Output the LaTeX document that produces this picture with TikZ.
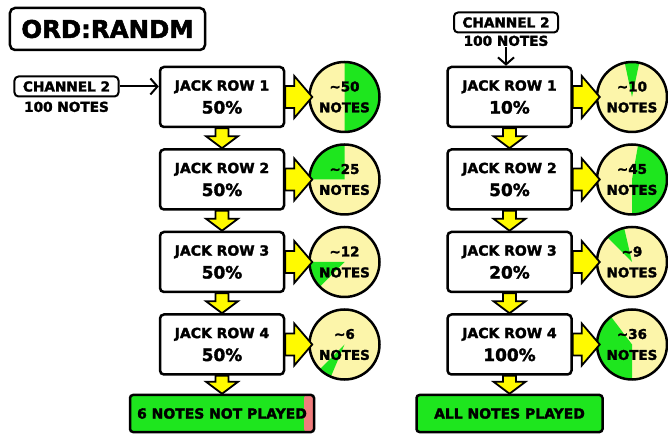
\documentclass[tikz,border=0pt]{standalone}
\usepackage{fontspec}
\setmainfont{DejaVu Sans}[BoldFeatures={FakeBold=2}]
\usepackage{tikz}
\usetikzlibrary{positioning,calc,arrows.meta}

\definecolor{arrowyellow}{RGB}{255,250,0}
\definecolor{pieyellow}{RGB}{252,245,170}
\definecolor{piegreen}{RGB}{30,230,30}
\definecolor{skipred}{RGB}{240,125,125}

\tikzset{
  jackbox/.style={draw, line width=2.5bp, rounded corners=4bp, fill=white,
    minimum width=124bp, minimum height=60bp, inner sep=0pt, align=center,
    font=\bfseries\fontsize{14}{23}\selectfont},
  notepie/.style 2 args={circle, draw, line width=2.5bp, fill=pieyellow,
    minimum size=70bp, inner sep=0pt, align=center,
    font=\bfseries\fontsize{13.5}{21}\selectfont,
    path picture={\fill[piegreen] (path picture bounding box.center) -- ++(#1:50bp)
      arc[start angle=#1, end angle=#2, radius=50bp] -- cycle;}},
  chanbox/.style={draw, line width=2bp, rounded corners=4bp, minimum width=104bp,
    minimum height=20bp, inner sep=0pt, font=\bfseries\fontsize{13.7}{15}\selectfont},
  endbox/.style={draw, line width=2.5bp, rounded corners=3bp, fill=piegreen,
    minimum height=37bp, inner sep=0pt, font=\bfseries\fontsize{14}{16}\selectfont},
  fatright/.style={draw, fill=arrowyellow, line width=1.8bp,
    to path={-- ($(\tikztostart)+(0,11bp)$) -- ($(\tikztotarget)+(-18bp,11bp)$)
      -- ($(\tikztotarget)+(-18bp,21bp)$) -- (\tikztotarget)
      -- ($(\tikztotarget)+(-18bp,-21bp)$) -- ($(\tikztotarget)+(-18bp,-11bp)$)
      -- ($(\tikztostart)+(0,-11bp)$) -- cycle}},
  fatdown/.style={draw, fill=arrowyellow, line width=1.8bp,
    to path={-- ($(\tikztostart)+(6.5bp,0)$) -- ($(\tikztotarget)+(6.5bp,12bp)$)
      -- ($(\tikztotarget)+(16bp,12bp)$) -- (\tikztotarget)
      -- ($(\tikztotarget)+(-16bp,12bp)$) -- ($(\tikztotarget)+(-6.5bp,12bp)$)
      -- ($(\tikztostart)+(-6.5bp,0)$) -- cycle}},
  feed/.style={line width=2bp, -{Straight Barb[length=7bp, width=16bp]}}
}

\newcommand\pct[1]{{\fontsize{17}{23}\selectfont #1}}

\begin{document}
\begin{tikzpicture}[x=1bp, y=1bp, node distance=20bp]
  \useasboundingbox (0,0) rectangle (668,436);

  \node[draw, line width=2.5bp, rounded corners=5bp, minimum width=195bp, minimum height=42bp,
    font=\bfseries\fontsize{24.5}{26}\selectfont] (title) at (107.5,407) {ORD:RANDM};

  % left column
  \node[chanbox] (lc) at (66.5,349.5) {CHANNEL 2};
  \node[below=3bp of lc, inner sep=1bp, font=\bfseries\fontsize{13.7}{15}\selectfont] (ln) {100 NOTES};

  \node[jackbox] (l1) at (222,339) {JACK ROW 1\\\pct{50\%}};
  \node[jackbox, below=of l1] (l2) {JACK ROW 2\\\pct{50\%}};
  \node[jackbox, below=of l2] (l3) {JACK ROW 3\\\pct{50\%}};
  \node[jackbox, below=of l3] (l4) {JACK ROW 4\\\pct{50\%}};
  \node[endbox, minimum width=184bp, below=18bp of l4,
    path picture={\fill[skipred] ([xshift=-10bp]path picture bounding box.north east)
      rectangle (path picture bounding box.south east);}] (lend) {6 NOTES NOT PLAYED};

  \node[notepie={-90}{90}, right=23bp of l1] (lp1) {\textasciitilde 50\\NOTES};
  \node[notepie={90}{180}, right=23bp of l2] (lp2) {\textasciitilde 25\\NOTES};
  \node[notepie={180}{225}, right=23bp of l3] (lp3) {\textasciitilde 12\\NOTES};
  \node[notepie={225}{247}, right=23bp of l4] (lp4) {\textasciitilde 6\\NOTES};

  \draw[feed] (lc.east) -- (lc.east -| l1.west);

  % right column
  \node[chanbox] (rc) at (506,413.5) {CHANNEL 2};
  \node[below=1bp of rc, inner sep=1bp, font=\bfseries\fontsize{13.7}{15}\selectfont] (rn) {100 NOTES};

  \node[jackbox] (r1) at (509.5,339) {JACK ROW 1\\\pct{10\%}};
  \node[jackbox, below=of r1] (r2) {JACK ROW 2\\\pct{50\%}};
  \node[jackbox, below=of r2] (r3) {JACK ROW 3\\\pct{20\%}};
  \node[jackbox, below=of r3] (r4) {JACK ROW 4\\\pct{100\%}};
  \node[endbox, minimum width=186bp, below=18bp of r4] (rend) {ALL NOTES PLAYED};

  \node[notepie={78}{102}, right=23bp of r1] (rp1) {\textasciitilde 10\\NOTES};
  \node[notepie={-90}{80}, right=23bp of r2] (rp2) {\textasciitilde 45\\NOTES};
  \node[notepie={103}{135}, right=23bp of r3] (rp3) {\textasciitilde 9\\NOTES};
  \node[notepie={127}{270}, right=23bp of r4] (rp4) {\textasciitilde 36\\NOTES};

  \draw[feed] (rn.south) -- (rn.south |- r1.north);

  % yellow arrows
  \foreach \s/\t in {l1/l2, l2/l3, l3/l4, l4/lend, r1/r2, r2/r3, r3/r4, r4/rend}
    \draw[fatdown] (\s.south) to (\t.north);
  \foreach \s/\t in {l1/lp1, l2/lp2, l3/lp3, l4/lp4, r1/rp1, r2/rp2, r3/rp3, r4/rp4}
    \draw[fatright] (\s.east) to ([xshift=4bp]\t.west);
\end{tikzpicture}
\end{document}
